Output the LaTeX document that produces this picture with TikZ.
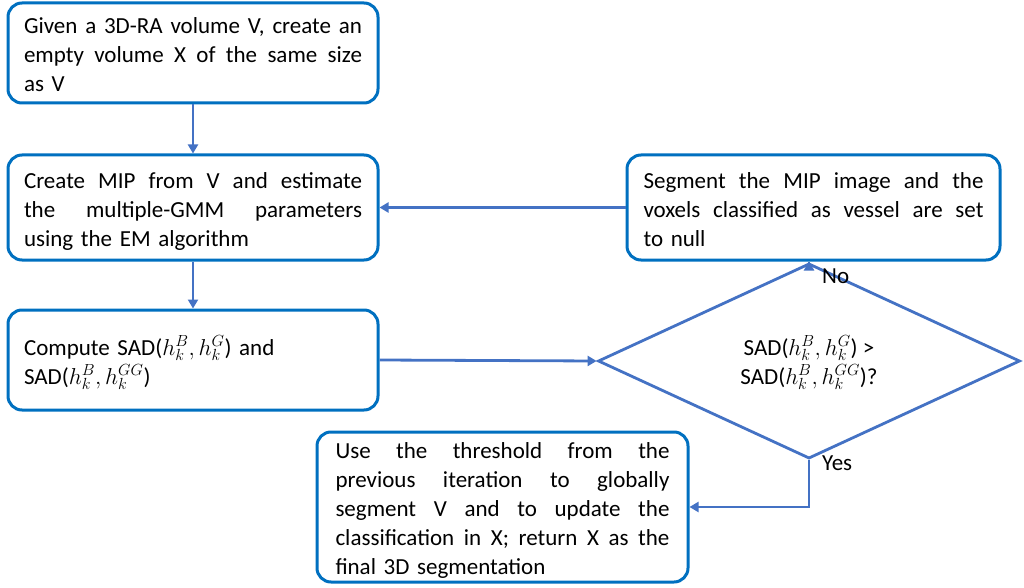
\RequirePackage{fix-cm}
\documentclass[tikz,border=0pt]{standalone}
\usepackage{fontspec}
\setmainfont{Carlito}
\usetikzlibrary{arrows.meta,shapes.geometric}
\definecolor{boxblue}{HTML}{0070C0}
\definecolor{arrblue}{HTML}{4472C4}
\newcommand{\jline}[2][338pt]{\makebox[#1][s]{\spaceskip=0.226em plus 1fil\relax #2}}
\begin{document}
\begin{tikzpicture}[x=1pt,y=-1pt,
  stepbox/.style={draw=boxblue, line width=3pt, rounded corners=14pt, fill=white,
    minimum width=370pt, minimum height=100pt, text width=338pt, inner sep=0pt,
    align=left, font=\fontsize{23}{29}\selectfont, text height=24pt, text depth=63pt},
  decbox/.style={diamond, draw=arrblue, line width=2.8pt, fill=white, minimum width=422pt,
    minimum height=138pt, inner sep=0pt, align=center, font=\fontsize{23}{29}\selectfont,
    text height=52pt, text depth=6pt},
  conn/.style={draw=arrblue, line width=2.8pt, -{Triangle[length=9pt,width=10pt]}},
  lbl/.style={font=\fontsize{23}{28}\selectfont, inner sep=0pt, anchor=base west}]
\useasboundingbox (0,0) rectangle (1024,588);
\node[stepbox] (b1) at (193,53)
  {\jline{Given a 3D-RA volume V, create an}\\\jline{empty volume X of the same size}\\as V};
\node[stepbox, minimum height=105pt] (b2) at (193,207.5)
  {\jline{Create MIP from V and estimate}\\\jline{the multiple-GMM parameters}\\using the EM algorithm};
\node[stepbox, text depth=34pt] (b3) at (193,360)
  {Compute SAD($h_k^B, h_k^G$) and\\SAD($h_k^B, h_k^{GG}$)};
\node[stepbox, minimum width=373pt, minimum height=105pt, text width=340pt] (b4) at (813.5,207.5)
  {\jline[340pt]{Segment the MIP image and the}\\\jline[340pt]{voxels classified as vessel are set}\\to null};
\node[decbox] (d) at (809,361)
  {SAD($h_k^B, h_k^G$) >\\SAD($h_k^B, h_k^{GG}$)?};
\node[stepbox, minimum width=371pt, minimum height=150pt, text width=334pt, text depth=121pt] (b5) at (502.5,507)
  {\jline[334pt]{Use the threshold from the}\\\jline[334pt]{previous iteration to globally}\\\jline[334pt]{segment V and to update the}\\\jline[334pt]{classification in X; return X as the}\\final 3D segmentation};
\draw[conn] (b1) -- (b2);
\draw[conn] (b2) -- (b3);
\draw[conn] (b3.east) -- (d.west);
\draw[conn] (d.north) -- (d.north |- b4.south);
\draw[conn] (b4.west) -- (b2.east);
\draw[conn] (d.south) |- (b5.east);
\node[lbl] (no) at (822,283) {No};
\node[lbl] (yes) at (822,470) {Yes};
\end{tikzpicture}
\end{document}
